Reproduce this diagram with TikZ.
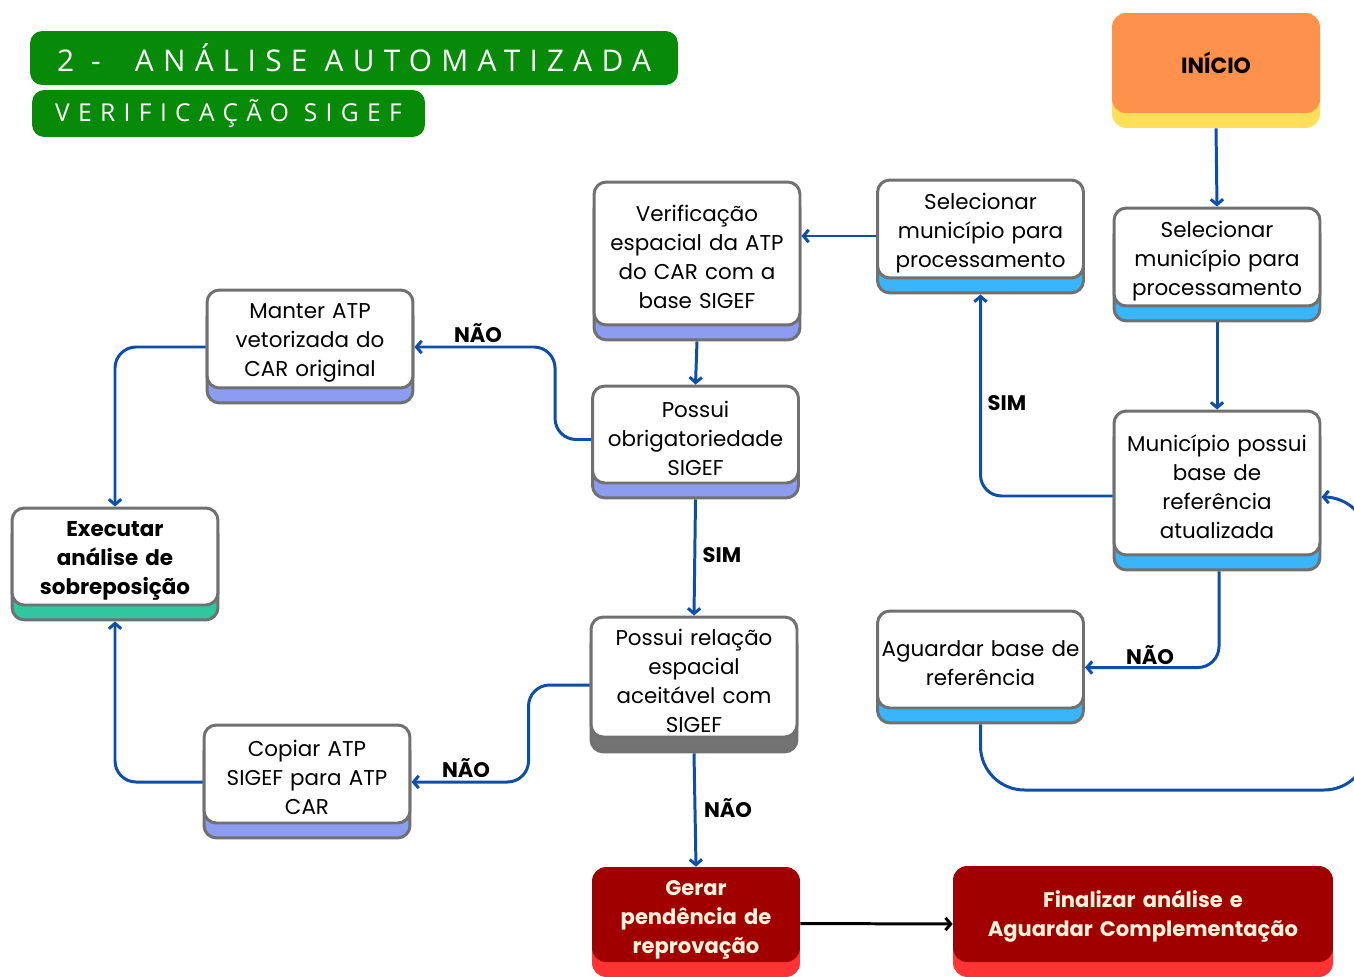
\documentclass[tikz,border=0pt]{standalone}
\usepackage{fontspec}
\setmainfont{Poppins}
\newfontfamily\titlefont[LetterSpace=31]{Open Sans}
\newfontfamily\subtitlefont[LetterSpace=34]{Open Sans}
\usetikzlibrary{arrows.meta,calc,shadows}
\definecolor{flowblue}{HTML}{0E4DA8}
\definecolor{cardgray}{HTML}{707070}
\definecolor{stripblue}{HTML}{3AB5FB}
\definecolor{stripviolet}{HTML}{8C9CF0}
\definecolor{stripteal}{HTML}{30C79F}
\definecolor{stripgray}{HTML}{737373}
\definecolor{titlegreen}{HTML}{078A08}
\definecolor{startorange}{HTML}{FF914D}
\definecolor{startyellow}{HTML}{FFDE59}
\definecolor{stopred}{HTML}{A00000}
\definecolor{stopstrip}{HTML}{FF3333}
\definecolor{stoptext}{HTML}{FFF3DC}
\tikzset{card/.style={draw=cardgray, line width=1.7pt, fill=white, rounded corners=7pt,
      minimum width=4.12cm, text width=4.08cm, align=center, inner sep=0pt,
      font=\fontsize{12.2}{16.5}\selectfont, text height=13.5pt,
      general shadow={shadow yshift=-8.5pt, fill=#1, draw=cardgray, line width=1.7pt}}}
\tikzset{stopbox/.style={fill=stopred, rounded corners=8pt, align=center, inner sep=0pt,
      text=stoptext, font=\bfseries\fontsize{12}{16.5}\selectfont,
      general shadow={shadow yshift=-8.5pt, fill=stopstrip}}}
\tikzset{titlebox/.style={fill=titlegreen, rounded corners=7pt, text=white, inner sep=0pt}}
\tikzset{flow/.style={draw=flowblue, line width=1.7pt, rounded corners=12pt,
      -{Straight Barb[length=3pt,width=7pt]}}}
\tikzset{answer/.style={font=\bfseries\fontsize{12}{14}\selectfont}}

\begin{document}
\begin{tikzpicture}[x=0.02cm, y=-0.02cm]
    \useasboundingbox (0,0) rectangle (1354,976);

    \node[titlebox, minimum width=12.96cm, minimum height=1.08cm] (title) at (354,58)
      {\titlefont\fontsize{17}{18}\selectfont 2 -\ \ ANÁLISE AUTOMATIZADA};
    \node[titlebox, minimum width=7.86cm, minimum height=0.94cm] (subtitle) at (228.5,113.5)
      {\subtitlefont\fontsize{14}{15}\selectfont VERIFICAÇÃO SIGEF};

    \node[fill=startorange, rounded corners=8pt, minimum width=4.16cm, minimum height=2cm,
      font=\bfseries\fontsize{12.5}{14}\selectfont,
      general shadow={shadow yshift=-8.5pt, fill=startyellow}] (inicio) at (1216,63) {INÍCIO};

    \node[card=stripblue, minimum height=1.96cm] (selB) at (1217,257)
      {Selecionar\\ município para\\ processamento};
    \node[card=stripblue, minimum height=1.96cm] (selA) at (980.5,229)
      {Selecionar\\ município para\\ processamento};
    \node[card=stripviolet, minimum height=2.86cm] (verif) at (697,253.5)
      {Verificação\\ espacial da ATP\\ do CAR com a\\ base SIGEF};
    \node[card=stripviolet, minimum height=1.96cm] (manter) at (310,339)
      {Manter ATP\\ vetorizada do\\ CAR original};
    \node[card=stripviolet, minimum height=1.94cm] (obrig) at (695.5,434.5)
      {Possui\\ obrigatoriedade\\ SIGEF};
    \node[card=stripteal, minimum height=1.94cm, font=\bfseries\fontsize{12.2}{16.5}\selectfont] (exec) at (115,556.5)
      {Executar\\ análise de\\ sobreposição};
    \node[card=stripblue, minimum height=2.88cm] (munic) at (1217,483)
      {Município possui\\ base de\\ referência\\ atualizada};
    \node[card=stripblue, minimum height=1.94cm] (aguard) at (980.5,659.5)
      {Aguardar base de\\ referência};
    \node[card=stripgray, minimum height=2.4cm] (relac) at (694,677)
      {Possui relação\\ espacial\\ aceitável com\\ SIGEF};
    \node[card=stripviolet, minimum height=1.96cm] (copiar) at (307,774)
      {Copiar ATP\\ SIGEF para ATP\\ CAR};
    \node[stopbox, minimum width=4.16cm, minimum height=1.9cm, text width=4.1cm, text height=14.5pt] (gerar) at (696,914.5)
      {Gerar\\ pendência de\\ reprovação};
    \node[stopbox, minimum width=7.6cm, minimum height=1.92cm, text width=7.5cm, text height=12.5pt] (final) at (1143,914)
      {Finalizar análise e\\ Aguardar Complementação};

    \coordinate (loopR) at (1368,790);

    \draw[flow] ($(inicio.south)+(0,15)$) -- (selB.north);
    \draw[flow] ($(selB.south)+(0,15)$) -- (munic.north);
    \draw[flow] ($(munic.west)+(0,13)$) -| ($(selA.south)+(0,15)$);
    \draw[flow] ($(selA.west)+(0,7)$) -- ($(verif.east |- selA.west)+(0,7)$);
    \draw[flow] ($(verif.south)+(0,15)$) -- (obrig.north);
    \draw[flow] ($(obrig.west)+(0,5)$) -- ++(-36,0) |- ($(manter.east)+(0,8)$);
    \draw[flow] ($(manter.west)+(0,8)$) -| (exec.north);
    \draw[flow] ($(obrig.south)+(0,15)$) -- (relac.north);
    \draw[flow] ($(relac.west)+(0,8)$) -- ++(-61,0) |- ($(copiar.east)+(0,8)$);
    \draw[flow] ($(copiar.west)+(0,8)$) -| ($(exec.south)+(0,15)$);
    \draw[flow] ($(relac.south)+(0,15)$) -- (gerar.north);
    \draw[flow, draw=black] ($(gerar.east)+(0,9)$) -- ($(final.west)+(0,10)$);
    \draw[flow] ($(munic.south)+(2,15)$) |- ($(aguard.east)+(0,8)$);
    \draw[flow, rounded corners=25pt] ($(aguard.south)+(0,15)$) |- (loopR) |- ($(munic.east)+(0,14)$);

    \node[answer] (simA) at (1007,403) {SIM};
    \node[answer] (naoA) at (478,333) {NÃO};
    \node[answer] (simB) at (722,555) {SIM};
    \node[answer] (naoB) at (466,768) {NÃO};
    \node[answer] (naoC) at (728,808) {NÃO};
    \node[answer] (naoD) at (1150,655) {NÃO};
\end{tikzpicture}
\end{document}
